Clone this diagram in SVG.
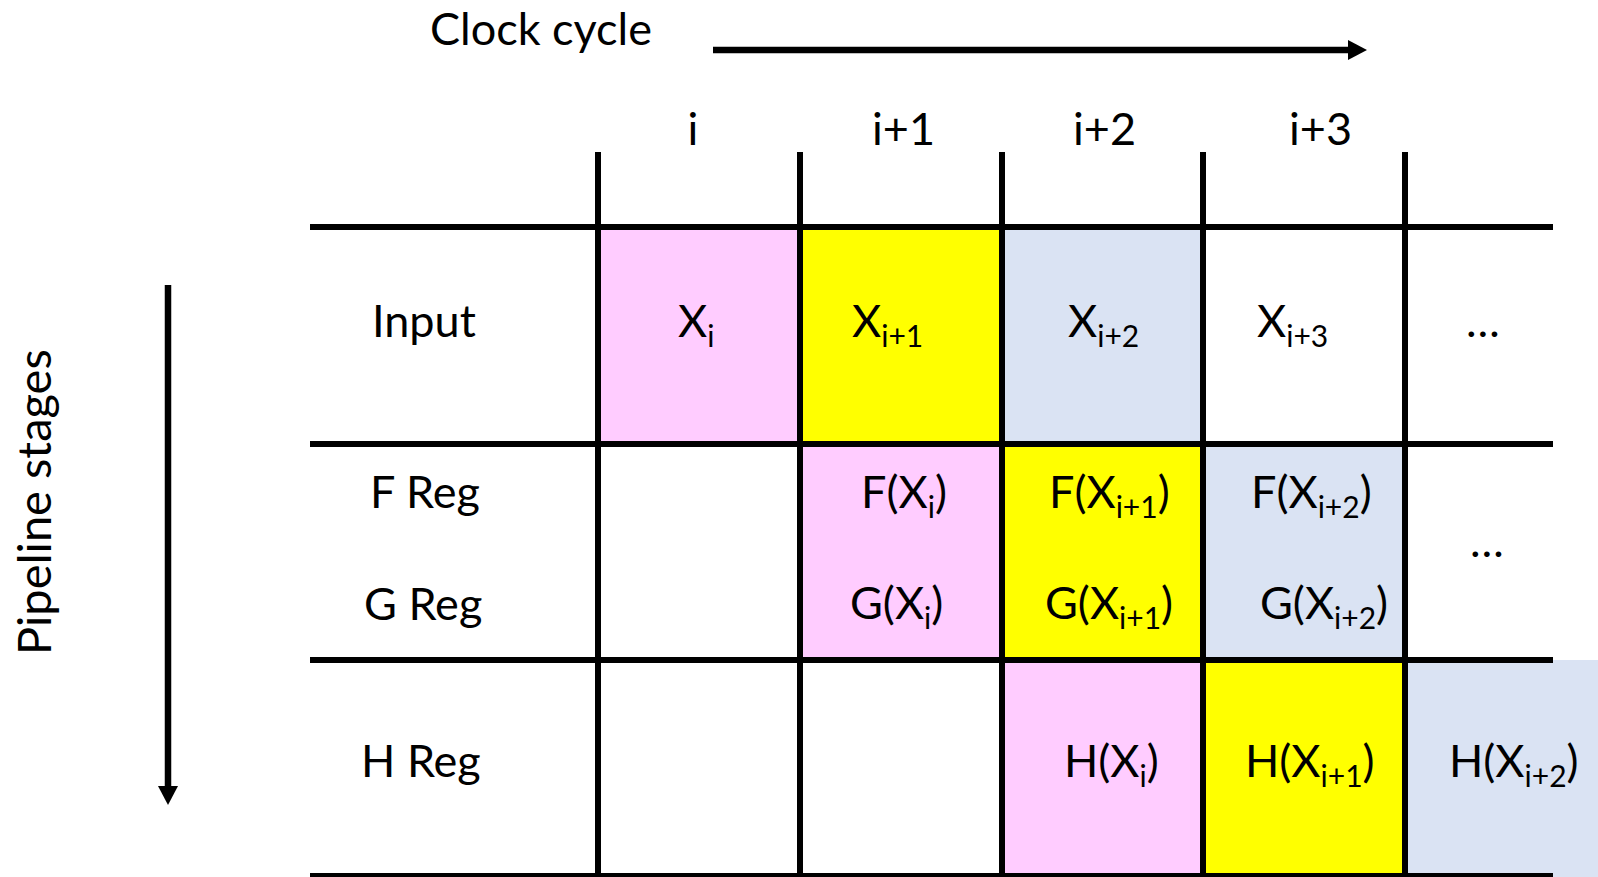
<svg xmlns="http://www.w3.org/2000/svg" width="1598" height="877" viewBox="0 0 1598 877">
  <style>
    .t { font-family: Lato, "Open Sans", "Liberation Sans", sans-serif; font-size: 45px; fill: #000; }
    .sub { font-size: 30px; }
    .grid { stroke: #000; stroke-width: 6; fill: none; }
    .axis { stroke: #000; stroke-width: 6.5; fill: none; }
    .pink { fill: #FFCCFF; }
    .yellow { fill: #FFFF00; }
    .blue { fill: #DAE3F3; }
  </style>
  <defs>
    <marker id="head" markerUnits="userSpaceOnUse" markerWidth="19" markerHeight="20" refX="0" refY="10" orient="auto" overflow="visible">
      <path d="M0,0 L19,10 L0,20 Z" fill="#000"/>
    </marker>
  </defs>

  <rect width="1598" height="877" fill="#fff"/>

  <!-- coloured cells: one colour per sample as it moves through the stages -->
  <g id="cells">
    <rect class="pink" x="598" y="227" width="202" height="217"/>
    <rect class="yellow" x="800" y="227" width="202" height="217"/>
    <rect class="blue" x="1002" y="227" width="201" height="217"/>

    <rect class="pink" x="800" y="444" width="202" height="216"/>
    <rect class="yellow" x="1002" y="444" width="201" height="216"/>
    <rect class="blue" x="1203" y="444" width="202" height="216"/>

    <rect class="pink" x="1002" y="660" width="201" height="217"/>
    <rect class="yellow" x="1203" y="660" width="202" height="217"/>
    <rect class="blue" x="1405" y="660" width="193" height="217"/>
  </g>

  <!-- table rules -->
  <g id="grid" class="grid">
    <line x1="310" y1="227" x2="1553" y2="227"/>
    <line x1="310" y1="444" x2="1553" y2="444"/>
    <line x1="310" y1="660" x2="1553" y2="660"/>
    <line x1="310" y1="876" x2="1553" y2="876"/>
    <line x1="598" y1="152" x2="598" y2="877"/>
    <line x1="800" y1="152" x2="800" y2="877"/>
    <line x1="1002" y1="152" x2="1002" y2="877"/>
    <line x1="1203" y1="152" x2="1203" y2="877"/>
    <line x1="1405" y1="152" x2="1405" y2="877"/>
  </g>

  <!-- axis arrows -->
  <g id="connectors">
    <line id="clock-arrow" class="axis" x1="713" y1="50" x2="1348" y2="50" marker-end="url(#head)"/>
    <line id="stage-arrow" class="axis" x1="168" y1="285" x2="168" y2="786" marker-end="url(#head)"/>
  </g>

  <g id="axis-labels">
    <text class="t" x="430" y="45">Clock cycle</text>
    <text class="t" style="font-size:47px" transform="translate(51,655) rotate(-90)">Pipeline stages</text>
  </g>

  <g id="cycle-headers">
    <text class="t" x="693" y="145" text-anchor="middle">i</text>
    <text class="t" x="872" y="145">i+1</text>
    <text class="t" x="1073" y="145">i+2</text>
    <text class="t" x="1289" y="145">i+3</text>
  </g>

  <g id="stage-input">
    <text class="t" x="372" y="337">Input</text>
    <text class="t" x="678" y="337">X<tspan class="sub" dy="10">i</tspan></text>
    <text class="t" x="852" y="337">X<tspan class="sub" dy="10">i+1</tspan></text>
    <text class="t" x="1068" y="337">X<tspan class="sub" dy="10">i+2</tspan></text>
    <text class="t" x="1257" y="337">X<tspan class="sub" dy="10">i+3</tspan></text>
    <text class="t" x="1466" y="337">…</text>
  </g>

  <g id="stage-fg">
    <text class="t" x="370" y="508">F Reg</text>
    <text class="t" x="364" y="620">G Reg</text>
    <text class="t" x="861" y="508">F(X<tspan class="sub" dy="10">i</tspan><tspan dy="-10">)</tspan></text>
    <text class="t" x="850" y="619">G(X<tspan class="sub" dy="10">i</tspan><tspan dy="-10">)</tspan></text>
    <text class="t" x="1049" y="508">F(X<tspan class="sub" dy="10">i+1</tspan><tspan dy="-10">)</tspan></text>
    <text class="t" x="1045" y="619">G(X<tspan class="sub" dy="10">i+1</tspan><tspan dy="-10">)</tspan></text>
    <text class="t" x="1251" y="508">F(X<tspan class="sub" dy="10">i+2</tspan><tspan dy="-10">)</tspan></text>
    <text class="t" x="1260" y="619">G(X<tspan class="sub" dy="10">i+2</tspan><tspan dy="-10">)</tspan></text>
    <text class="t" x="1470" y="557">…</text>
  </g>

  <g id="stage-h">
    <text class="t" x="361" y="777">H Reg</text>
    <text class="t" x="1064" y="777">H(X<tspan class="sub" dy="10">i</tspan><tspan dy="-10">)</tspan></text>
    <text class="t" x="1245" y="777">H(X<tspan class="sub" dy="10">i+1</tspan><tspan dy="-10">)</tspan></text>
    <text class="t" x="1449" y="777">H(X<tspan class="sub" dy="10">i+2</tspan><tspan dy="-10">)</tspan></text>
  </g>
</svg>
